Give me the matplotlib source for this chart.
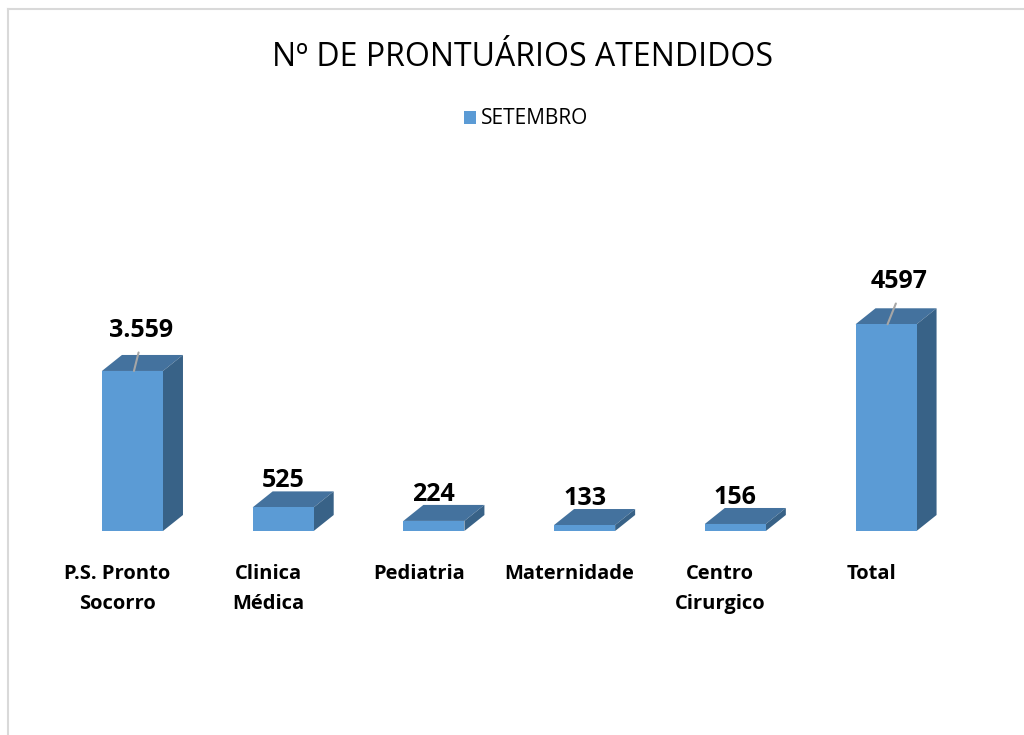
import matplotlib
matplotlib.use('Agg')
import matplotlib.pyplot as plt
from matplotlib.patches import Polygon, Rectangle
from matplotlib.lines import Line2D

plt.rcParams['font.family'] = ['Open Sans', 'DejaVu Sans']

categorias = ['P.S. Pronto\nSocorro', 'Clinica\nMédica', 'Pediatria',
              'Maternidade', 'Centro\nCirurgico', 'Total']
valores = [3559, 525, 224, 133, 156, 4597]
rotulos = ['3.559', '525', '224', '133', '156', '4597']
serie = 'SETEMBRO'
titulo = 'Nº DE PRONTUÁRIOS ATENDIDOS'

cor_frente = '#5B9BD5'
cor_topo = '#44729E'
cor_lado = '#386287'

fig = plt.figure(figsize=(10.24, 7.35), dpi=100)
W, H = 1024, 735

# eixo posicionado em pixels (base em y=531, colunas a cada ~151 px)
ax = fig.add_axes([57.1 / W, 1 - 531 / H, 904.3 / W, 269.8 / H])
ax.set_xlim(-0.5, 5.5)
ax.set_ylim(0, 6000)
ax.axis('off')

# profundidade 3D em pixels -> unidades de dados
px_x = ax.bbox.width / 6.0
px_y = ax.bbox.height / 6000.0
dx = 20 / px_x
dy = 16 / px_y

largura = 0.405
x = list(range(len(valores)))
barras = ax.bar(x, valores, width=largura, color=cor_frente, linewidth=0, zorder=3)

for b in barras:
    x0 = b.get_x()
    x1 = x0 + b.get_width()
    h = b.get_height()
    topo = Polygon([(x0, h), (x1, h), (x1 + dx, h + dy), (x0 + dx, h + dy)],
                   closed=True, facecolor=cor_topo, edgecolor='none', zorder=2)
    lado = Polygon([(x1, 0), (x1 + dx, dy), (x1 + dx, h + dy), (x1, h)],
                   closed=True, facecolor=cor_lado, edgecolor='none', zorder=2)
    ax.add_patch(topo)
    ax.add_patch(lado)

# rotulos de valor
desloc = {0: (7, 28), 5: (12, 30)}
for i, (v, r) in enumerate(zip(valores, rotulos)):
    if i in desloc:
        # rotulo deslocado com linha de chamada
        ax.annotate(r, xy=(i + 0.01, v), xytext=desloc[i], textcoords='offset pixels',
                    ha='center', va='bottom', fontsize=18, fontweight='bold',
                    arrowprops=dict(arrowstyle='-', color='#A6A6A6', lw=1.5,
                                    shrinkA=5, shrinkB=0, relpos=(0.5, 0)),
                    zorder=5)
    else:
        ax.annotate(r, xy=(i, v + dy), xytext=(0, -2), textcoords='offset pixels',
                    ha='center', va='bottom', fontsize=18, fontweight='bold', zorder=5)

# rotulos de categoria
for i, c in enumerate(categorias):
    ax.annotate(c, xy=(i, 0), xytext=(-15, -33), textcoords='offset pixels',
                ha='center', va='top', fontsize=14.5, fontweight='bold',
                linespacing=1.65, annotation_clip=False)

# titulo e legenda
fig.text(522 / W, 1 - 57 / H, titulo, ha='center', va='center', fontsize=23)
fig.patches.append(Rectangle((464 / W, 1 - 124 / H), 12 / W, 13 / H,
                             transform=fig.transFigure, facecolor=cor_frente,
                             edgecolor='none'))
fig.text(481 / W, 1 - 119 / H, serie, ha='left', va='center', fontsize=15)

# borda da area do grafico
fig.add_artist(Line2D([8 / W, 8 / W], [0, 1 - 9 / H], transform=fig.transFigure,
                      color='#D9D9D9', lw=1.5))
fig.add_artist(Line2D([8 / W, 1], [1 - 9 / H, 1 - 9 / H], transform=fig.transFigure,
                      color='#D9D9D9', lw=1.5))

fig.savefig('out.png', dpi=100)
